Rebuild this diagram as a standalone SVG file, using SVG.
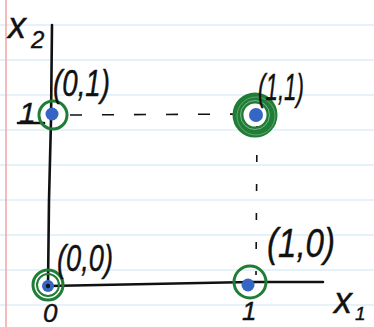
<svg xmlns="http://www.w3.org/2000/svg" width="374" height="327" viewBox="0 0 374 327">
<defs>
<style>
.rule{stroke:#cde5f5;stroke-width:1.2}
.axis{stroke:#111;stroke-width:2.6;fill:none;stroke-linecap:round}
.dash{stroke:#111;stroke-width:1.6;fill:none}
.ring{fill:none;stroke:#1f7d36;stroke-width:3}
.dot{fill:#3566c4}
.lbl{font-family:"Liberation Sans",Arial,sans-serif;font-style:italic;fill:#111;stroke:#111;stroke-width:0.4}
</style>
</defs>
<rect width="374" height="327" fill="#ffffff"/>
<g id="paper">
<line class="rule" x1="0" y1="25" x2="374" y2="25"/>
<line class="rule" x1="0" y1="60" x2="374" y2="60"/>
<line class="rule" x1="0" y1="95" x2="374" y2="95"/>
<line class="rule" x1="0" y1="130" x2="374" y2="130"/>
<line class="rule" x1="0" y1="165" x2="374" y2="165"/>
<line class="rule" x1="0" y1="200" x2="374" y2="200"/>
<line class="rule" x1="0" y1="235" x2="374" y2="235"/>
<line class="rule" x1="0" y1="270" x2="374" y2="270"/>
<line class="rule" x1="0" y1="305" x2="374" y2="305"/>
<line x1="6" y1="0" x2="6" y2="327" stroke="#f5a9a9" stroke-width="1.6"/>
</g>
<g id="connectors">
<path class="axis" d="M52 25 L51 120 L49 200 L48 286"/>
<path class="axis" d="M48 286 L150 284 L250 282 L323 282"/>
<line class="dash" x1="70" y1="115" x2="245" y2="114" stroke-dasharray="12 20"/>
<line class="dash" x1="257" y1="126" x2="256" y2="275" stroke-dasharray="7 22"/>
<line class="axis" x1="18" y1="123" x2="44" y2="123" stroke-width="2.4"/>
</g>
<g id="point-01">
<circle class="ring" cx="53" cy="115" r="14"/>
<circle class="dot" cx="52" cy="114" r="6.5"/>
<text class="lbl" x="53" y="96" font-size="36" textLength="57" lengthAdjust="spacingAndGlyphs">(0,1)</text>
</g>
<g id="point-11">
<circle cx="255" cy="115" r="17" fill="none" stroke="#1f7d36" stroke-width="11"/>
<circle cx="255" cy="115" r="14.5" fill="none" stroke="#ffffff" stroke-width="0.6" opacity="0.7"/>
<circle cx="256" cy="116" r="19" fill="none" stroke="#ffffff" stroke-width="0.5" opacity="0.6"/>
<circle class="dot" cx="256" cy="115" r="7"/>
<text class="lbl" x="258" y="100" font-size="36" textLength="46" lengthAdjust="spacingAndGlyphs">(1,1)</text>
</g>
<g id="point-00">
<circle class="ring" cx="48" cy="285" r="15"/>
<circle cx="48" cy="285" r="11" fill="none" stroke="#1f7d36" stroke-width="2"/>
<circle class="dot" cx="48" cy="286" r="6"/>
<circle cx="48" cy="286" r="2.2" fill="#111"/>
<text class="lbl" x="57" y="271" font-size="36" textLength="56" lengthAdjust="spacingAndGlyphs">(0,0)</text>
</g>
<g id="point-10">
<circle class="ring" cx="250" cy="282" r="16"/>
<circle class="dot" cx="248" cy="285" r="6.5"/>
<text class="lbl" x="267" y="257" font-size="40" textLength="68" lengthAdjust="spacingAndGlyphs">(1,0)</text>
</g>
<g id="labels">
<text class="lbl" x="8" y="38" font-size="36">x</text>
<text class="lbl" x="31" y="48" font-size="24">2</text>
<text class="lbl" x="19" y="123" font-size="30">1</text>
<text class="lbl" x="43" y="322" font-size="26">0</text>
<text class="lbl" x="242" y="320" font-size="26">1</text>
<text class="lbl" x="334" y="313" font-size="36">x</text>
<text class="lbl" x="355" y="320" font-size="19">1</text>
</g>
</svg>
